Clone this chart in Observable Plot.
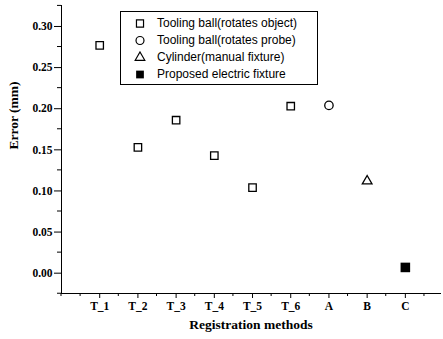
<!DOCTYPE html>
<html>
<head>
<meta charset="utf-8">
<script src="https://cdn.jsdelivr.net/npm/d3@7"></script>
<script src="https://cdn.jsdelivr.net/npm/@observablehq/plot@0.6"></script>
<style>
  html, body { margin: 0; padding: 0; background: #fff; }
  #wrap { position: relative; width: 443px; height: 339px; }
  #legend { position: absolute; left: 120px; top: 11px; width: 198px; height: 74px;
    border: 1px solid #000; background: #fff; box-sizing: border-box;
    font-family: "Liberation Sans", Arial, sans-serif; font-size: 12px; color: #000; }
  .row { position: absolute; left: 0; height: 17px; display: flex; align-items: center; white-space: nowrap; }
  .row svg { margin-left: 13px; margin-right: 11px; }
</style>
</head>
<body>
<div id="wrap"></div>
<script>
// ---- data ----
const methods = ["T_1", "T_2", "T_3", "T_4", "T_5", "T_6", "A", "B", "C"];
const errors = [0.277, 0.153, 0.186, 0.143, 0.104, 0.203, 0.204, 0.112, 0.007];
const groupNames = [
  "Tooling ball(rotates object)",
  "Tooling ball(rotates probe)",
  "Cylinder(manual fixture)",
  "Proposed electric fixture"
];
const methodGroup = [0, 0, 0, 0, 0, 0, 1, 2, 3];
const groupSymbols = ["square", "circle", "triangle", "square"];
const groupFilled = [false, false, false, true];
const yTicks = [0, 0.05, 0.10, 0.15, 0.20, 0.25, 0.30];
const yMinorTicks = [-0.025, 0.025, 0.075, 0.125, 0.175, 0.225, 0.275, 0.325];
const xTicks = [1, 2, 3, 4, 5, 6, 7, 8, 9];
const xMinorTicks = [0, 0.5, 1.5, 2.5, 3.5, 4.5, 5.5, 6.5, 7.5, 8.5, 9.5];
const xTitle = "Registration methods";
const yTitle = "Error (mm)";

const rows = methods.map((m, i) => ({
  pos: i + 1, method: m, error: errors[i],
  g: methodGroup[i], group: groupNames[methodGroup[i]]
}));

const titleFont = { fontSize: 13.5, fontWeight: "bold", fontFamily: "Liberation Serif, Times New Roman, serif" };

const plot = Plot.plot({
  width: 443,
  height: 339,
  marginLeft: 61,
  marginRight: 3,
  marginTop: 5,
  marginBottom: 46,
  style: { fontFamily: "Liberation Serif, Times New Roman, serif", fontSize: "11.5px", fontWeight: "bold", color: "#000", background: "#fff" },
  x: {
    domain: [0, 9.92],
    ticks: xTicks,
    tickFormat: d => methods[d - 1],
    tickSize: 5,
    tickPadding: 3,
    line: true,
    label: null
  },
  y: {
    domain: [-0.0247, 0.3255],
    ticks: yTicks,
    tickFormat: d3.format(".2f"),
    tickSize: 7,
    tickPadding: 2,
    line: true,
    label: null
  },
  symbol: { domain: groupNames, range: groupSymbols },
  marks: [
    Plot.dot(rows.filter(d => d.g === 0 || d.g === 1), { x: "pos", y: "error", symbol: "group", r: 4.2, stroke: "#000", strokeWidth: 1.3, fill: "none" }),
    Plot.dot(rows.filter(d => d.g === 2), { x: "pos", y: "error", symbol: "group", r: 3.6, stroke: "#000", strokeWidth: 1.3, fill: "none" }),
    Plot.dot(rows.filter(d => d.g === 3), { x: "pos", y: "error", symbol: "group", r: 5.4, fill: "#000", stroke: "none" }),
    Plot.text([xTitle], { frameAnchor: "bottom", dy: 35, text: d => d, ...titleFont }),
    Plot.text([yTitle], { frameAnchor: "left", dx: -48, rotate: -90, text: d => d, ...titleFont })
  ]
});

document.getElementById("wrap").appendChild(plot);

// minor ticks using the plot's own scales
const xs = plot.scale("x"), ys = plot.scale("y");
const svg = d3.select(plot);
const yBase = ys.apply(ys.domain[0]);
const xBase = xs.apply(xs.domain[0]);
const g = svg.append("g").attr("stroke", "#000").attr("stroke-width", 1);
g.selectAll(".mx").data(xMinorTicks).join("line")
  .attr("x1", d => xs.apply(d)).attr("x2", d => xs.apply(d))
  .attr("y1", yBase).attr("y2", yBase + 3);
g.selectAll(".my").data(yMinorTicks).join("line")
  .attr("y1", d => ys.apply(d)).attr("y2", d => ys.apply(d))
  .attr("x1", xBase).attr("x2", xBase - 4);

// legend
const legend = document.createElement("div");
legend.id = "legend";
groupNames.forEach((name, i) => {
  const row = document.createElement("div");
  row.className = "row";
  row.style.top = (2 + i * 17) + "px";
  const sym = d3.create("svg").attr("width", 12).attr("height", 12);
  const path = d3.symbol(
    { square: d3.symbolSquare, circle: d3.symbolCircle, triangle: d3.symbolTriangle }[groupSymbols[i]],
    groupFilled[i] ? 60 : (groupSymbols[i] === "triangle" ? 40 : 50)
  )();
  sym.append("path").attr("d", path).attr("transform", "translate(6,6.5)")
    .attr("fill", groupFilled[i] ? "#000" : "none")
    .attr("stroke", groupFilled[i] ? "none" : "#000").attr("stroke-width", 1.2);
  row.appendChild(sym.node());
  const t = document.createElement("span");
  t.textContent = name;
  row.appendChild(t);
  legend.appendChild(row);
});
document.getElementById("wrap").appendChild(legend);
</script>
</body>
</html>
